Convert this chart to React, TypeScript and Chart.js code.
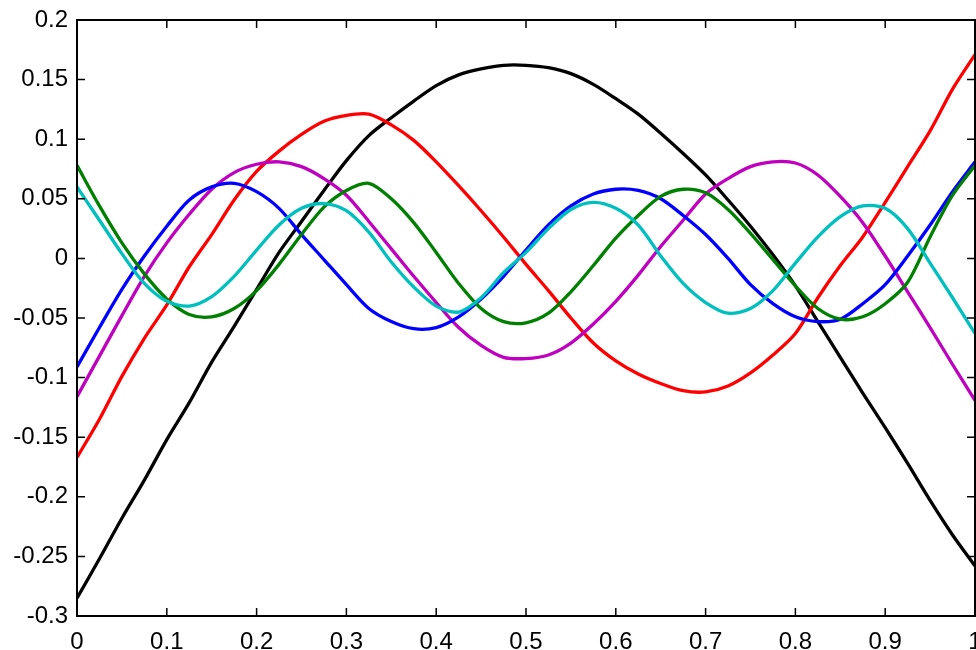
import React, { useEffect, useRef } from "react";
import { Chart, registerables } from "chart.js";

Chart.register(...registerables);

const xValues = [
  0, 0.025, 0.05, 0.075, 0.1, 0.125, 0.15, 0.175, 0.2, 0.225, 0.25, 0.275, 0.3, 0.325, 0.35, 0.375, 0.4,
  0.425, 0.45, 0.475, 0.5, 0.525, 0.55, 0.575, 0.6, 0.625, 0.65, 0.675, 0.7, 0.725, 0.75, 0.775, 0.8,
  0.825, 0.85, 0.875, 0.9, 0.925, 0.95, 0.975, 1,
];

const blackSeries = [
  -0.285, -0.252, -0.218, -0.186, -0.152, -0.121, -0.087, -0.057, -0.026, 0.005, 0.031, 0.057, 0.082, 0.103,
  0.118, 0.132, 0.145, 0.154, 0.159, 0.162, 0.162, 0.160, 0.155, 0.146, 0.134, 0.121, 0.105, 0.088, 0.070,
  0.049, 0.027, 0.003, -0.023, -0.053, -0.083, -0.113, -0.142, -0.172, -0.203, -0.232, -0.258,
];

const redSeries = [
  -0.167, -0.135, -0.099, -0.067, -0.039, -0.007, 0.020, 0.049, 0.073, 0.090, 0.104, 0.115, 0.120, 0.121,
  0.112, 0.099, 0.081, 0.061, 0.040, 0.018, -0.005, -0.027, -0.050, -0.071, -0.086, -0.097, -0.105, -0.111,
  -0.112, -0.107, -0.096, -0.081, -0.063, -0.033, -0.006, 0.018, 0.047, 0.077, 0.107, 0.142, 0.171,
];

const magentaSeries = [
  -0.116, -0.082, -0.048, -0.015, 0.013, 0.037, 0.058, 0.072, 0.079, 0.081, 0.077, 0.067, 0.053, 0.031,
  0.008, -0.015, -0.037, -0.058, -0.073, -0.083, -0.084, -0.081, -0.071, -0.055, -0.036, -0.014, 0.010,
  0.032, 0.054, 0.067, 0.077, 0.081, 0.080, 0.070, 0.052, 0.030, 0.002, -0.028, -0.058, -0.089, -0.119,
];

const blueSeries = [
  -0.091, -0.058, -0.026, 0.002, 0.027, 0.049, 0.060, 0.063, 0.056, 0.042, 0.020, -0.001, -0.022, -0.042,
  -0.053, -0.059, -0.058, -0.049, -0.034, -0.015, 0.007, 0.028, 0.044, 0.054, 0.058, 0.057, 0.050, 0.036,
  0.020, 0.000, -0.022, -0.038, -0.049, -0.053, -0.051, -0.038, -0.022, 0.002, 0.028, 0.056, 0.081,
];

const greenSeries = [
  0.078, 0.044, 0.013, -0.013, -0.034, -0.047, -0.049, -0.042, -0.027, -0.005, 0.020, 0.043, 0.057, 0.063,
  0.050, 0.030, 0.005, -0.021, -0.042, -0.053, -0.054, -0.046, -0.028, -0.006, 0.017, 0.036, 0.052, 0.058,
  0.055, 0.041, 0.021, -0.001, -0.023, -0.042, -0.051, -0.049, -0.038, -0.020, 0.018, 0.053, 0.078,
];

const cyanSeries = [
  0.060, 0.032, 0.004, -0.021, -0.036, -0.040, -0.032, -0.015, 0.007, 0.028, 0.042, 0.046, 0.040, 0.022,
  -0.003, -0.024, -0.040, -0.045, -0.033, -0.012, 0.005, 0.025, 0.041, 0.047, 0.042, 0.028, 0.002, -0.021,
  -0.037, -0.046, -0.042, -0.027, -0.004, 0.018, 0.035, 0.044, 0.042, 0.025, -0.004, -0.033, -0.063,
];

const xTickValues = [0, 0.1, 0.2, 0.3, 0.4, 0.5, 0.6, 0.7, 0.8, 0.9, 1];
const yTickValues = [-0.3, -0.25, -0.2, -0.15, -0.1, -0.05, 0, 0.05, 0.1, 0.15, 0.2];

const seriesList = [
  { name: "black", values: blackSeries, color: "#000000", order: 5 },
  { name: "red", values: redSeries, color: "#ff0000", order: 4 },
  { name: "magenta", values: magentaSeries, color: "#bf00bf", order: 3 },
  { name: "blue", values: blueSeries, color: "#0000ff", order: 2 },
  { name: "green", values: greenSeries, color: "#008000", order: 1 },
  { name: "cyan", values: cyanSeries, color: "#00bfbf", order: 0 },
];

const fmt = (v: number) => {
  const n = parseFloat(Number(v).toFixed(2));
  return (Object.is(n, -0) ? 0 : n).toString();
};

const framePlugin = {
  id: "matlabFrame",
  afterDatasetsDraw(chart: any) {
    const { ctx, chartArea } = chart;
    const { left, right, top, bottom } = chartArea;
    const xs = chart.scales.x;
    const ys = chart.scales.y;
    const tl = 8;
    ctx.save();
    ctx.strokeStyle = "#000000";
    ctx.lineWidth = 1.5;
    ctx.beginPath();
    xTickValues.forEach((v) => {
      const px = xs.getPixelForValue(v);
      ctx.moveTo(px, bottom);
      ctx.lineTo(px, bottom - tl);
      ctx.moveTo(px, top);
      ctx.lineTo(px, top + tl);
    });
    yTickValues.forEach((v) => {
      const py = ys.getPixelForValue(v);
      ctx.moveTo(left, py);
      ctx.lineTo(left + tl, py);
      ctx.moveTo(right, py);
      ctx.lineTo(right - tl, py);
    });
    ctx.stroke();
    ctx.lineWidth = 2;
    ctx.strokeRect(left, top, right - left, bottom - top);
    ctx.restore();
  },
};

export default function App() {
  const canvasRef = useRef<HTMLCanvasElement | null>(null);

  useEffect(() => {
    if (!canvasRef.current) return;
    const font = { family: "'Liberation Sans', Arial, sans-serif", size: 24 };
    const chart = new Chart(canvasRef.current, {
      type: "line",
      data: {
        datasets: seriesList.map((s) => ({
          label: s.name,
          data: xValues.map((x, i) => ({ x, y: s.values[i] })),
          borderColor: s.color,
          backgroundColor: s.color,
          borderWidth: 3.3,
          pointRadius: 0,
          tension: 0.3,
          fill: false,
          order: s.order,
        })),
      },
      options: {
        responsive: false,
        animation: false,
        devicePixelRatio: 1,
        layout: { padding: { top: 20, right: 1, left: 0, bottom: 0 } },
        plugins: {
          legend: { display: false },
          tooltip: { enabled: false },
        },
        scales: {
          x: {
            type: "linear",
            min: 0,
            max: 1,
            grid: { display: false, drawTicks: false },
            border: { display: false },
            ticks: {
              stepSize: 0.1,
              autoSkip: false,
              maxRotation: 0,
              color: "#000000",
              font,
              padding: 12,
              callback: (v: any) => fmt(v),
            },
            afterFit: (scale: any) => {
              scale.height = 34;
              scale.paddingLeft = 0;
              scale.paddingRight = 0;
            },
          },
          y: {
            type: "linear",
            min: -0.3,
            max: 0.2,
            grid: { display: false, drawTicks: false },
            border: { display: false },
            ticks: {
              stepSize: 0.05,
              autoSkip: false,
              color: "#000000",
              font,
              padding: 9,
              callback: (v: any) => fmt(v),
            },
            afterFit: (scale: any) => {
              scale.width = 77;
              scale.paddingTop = 0;
              scale.paddingBottom = 0;
            },
          },
        },
      } as any,
      plugins: [framePlugin],
    });
    return () => chart.destroy();
  }, []);

  return (
    <div style={{ position: "absolute", left: 0, top: 0, width: 976, height: 650, background: "#ffffff" }}>
      <canvas ref={canvasRef} width={976} height={650} />
    </div>
  );
}
